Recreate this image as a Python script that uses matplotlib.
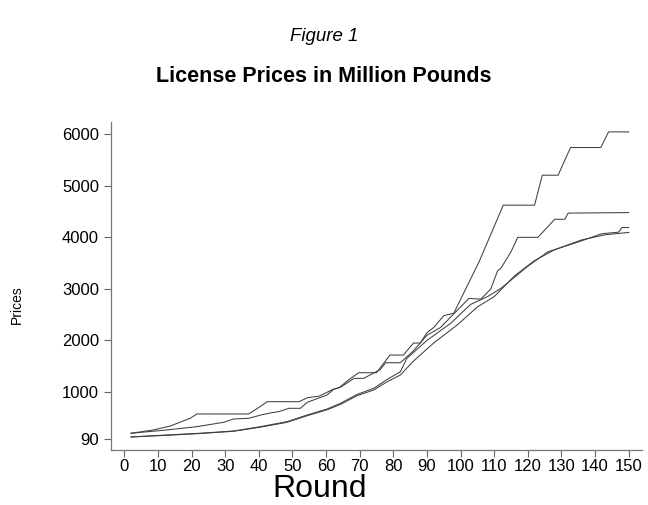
import matplotlib
matplotlib.use("Agg")
import matplotlib.pyplot as plt

plt.rcParams['font.family'] = ['Liberation Sans', 'DejaVu Sans']

# Four auction price paths, vertices (round, price)
rounds_a = [2, 8.7, 13.7, 19.6, 21.6, 37, 40, 42.5, 52, 54.5, 58, 62, 64, 67, 69.7, 75, 79, 83,
            86, 88, 90, 92, 95, 98, 105.5, 112.7, 122, 124.3, 129, 132.7, 141.7, 144, 150]
prices_a = [200, 264, 341, 490, 574, 574, 700, 812, 812, 890, 920, 1050, 1090, 1250, 1374, 1374, 1717, 1717,
            1950, 1950, 2150, 2250, 2480, 2530, 3525, 4624, 4624, 5205, 5205, 5742, 5742, 6045, 6045]

rounds_b = [2, 12.7, 21.6, 29.6, 32.5, 37, 41, 44, 46, 49, 52.4, 54.4, 60.3, 62.3, 64.3, 68.3, 71.2,
            76.2, 77.7, 82.1, 86, 90, 94, 97, 102.5, 106, 109, 111, 112, 115, 117, 123, 125, 128,
            131, 132, 150]
prices_b = [200, 264, 328, 413, 477, 490, 560, 600, 620, 684, 684, 800, 942, 1052, 1091, 1265, 1265,
            1440, 1568, 1568, 1800, 2100, 2250, 2450, 2816, 2800, 3000, 3350, 3400, 3720, 4000, 4000, 4140, 4350,
            4350, 4470, 4480]

rounds_c = [2, 12.7, 22.6, 32.5, 40.5, 48.4, 54.4, 60.3, 64.3, 69.3, 74.2, 78.2, 82.1, 84, 90, 97,
            103, 108, 112, 115, 120, 126, 135, 142, 147, 148, 150]
prices_c = [128, 167, 200, 244, 328, 425, 554, 670, 781, 955, 1072, 1246, 1393, 1650, 2000, 2330,
            2700, 2850, 3010, 3170, 3440, 3720, 3910, 4070, 4100, 4190, 4190]

rounds_d = [2, 12.7, 22.6, 32.5, 40.5, 48.4, 54.4, 60.3, 64.3, 69.3, 74.2, 78.2, 82.1, 86, 92, 99,
            105, 110, 116, 122, 128, 136, 143, 150]
prices_d = [128, 160, 195, 238, 318, 412, 540, 655, 760, 930, 1040, 1200, 1330, 1600, 1950, 2300,
            2650, 2850, 3250, 3550, 3760, 3950, 4050, 4095]

yticks = [90, 1000, 2000, 3000, 4000, 5000, 6000]
xticks = list(range(0, 151, 10))

fig = plt.figure(figsize=(6.48, 5.05), dpi=100)
ax = fig.add_axes([0.171, 0.109, 0.82, 0.649])

for r, p in [(rounds_a, prices_a), (rounds_b, prices_b), (rounds_c, prices_c), (rounds_d, prices_d)]:
    ax.plot(r, p, color='#404040', lw=0.75)

ax.set_xlim(-4, 154)
ax.set_ylim(-124, 6233)
ax.set_yticks(yticks)
ax.set_yticklabels([str(t) for t in yticks])
ax.set_xticks(xticks)
ax.tick_params(axis='both', labelsize=12, length=5, width=0.8, color='#666666', direction='out')
ax.tick_params(axis='x', pad=1.5)
for s in ['top', 'right']:
    ax.spines[s].set_visible(False)
for s in ['left', 'bottom']:
    ax.spines[s].set_color('#777777')
    ax.spines[s].set_linewidth(0.9)

# axis labels placed where the scan has them
fig.text(320 / 648, 1 - 497 / 505, 'Round', ha='center', va='baseline', fontsize=23)
fig.text(17 / 648, 1 - 305 / 505, 'Prices', ha='center', va='center', fontsize=10, rotation=90)

fig.text(0.5, 0.928, 'Figure 1', ha='center', va='center', fontsize=13.4, style='italic')
fig.text(0.5, 0.849, 'License Prices in Million Pounds', ha='center', va='center',
         fontsize=15.5, weight='bold')

fig.savefig('out.png', dpi=100)
